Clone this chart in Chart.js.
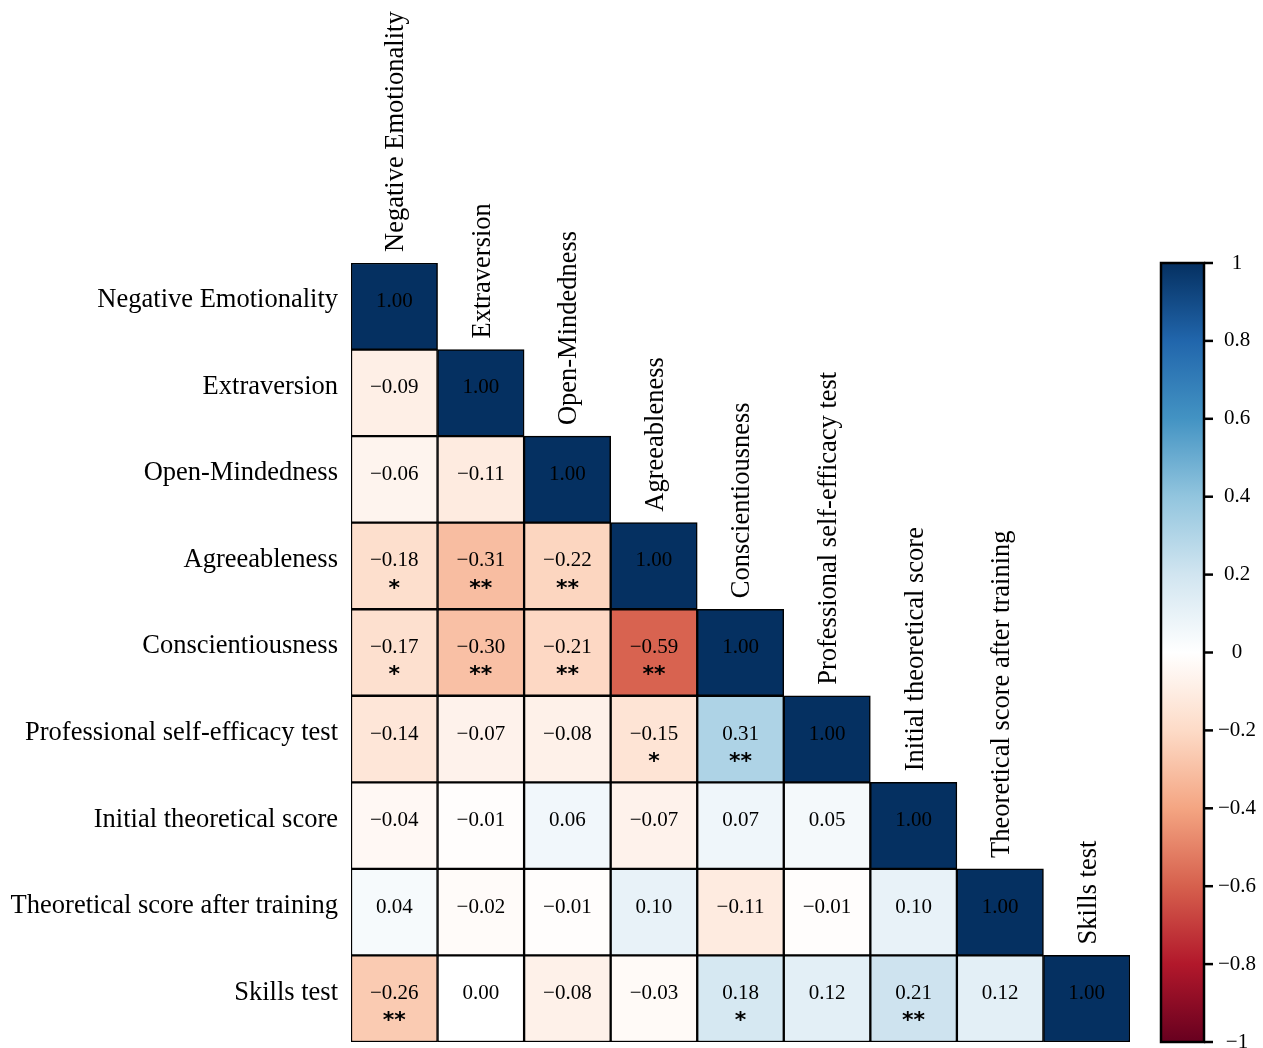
<!DOCTYPE html>
<html><head><meta charset="utf-8">
<script src="https://cdn.jsdelivr.net/npm/chart.js@4"></script>
<style>html,body{margin:0;padding:0;background:#fff;}#wrap{width:1263px;height:1048px;}</style>
</head><body><div id="wrap"><canvas id="c" width="1263" height="1048"></canvas></div>
<script>
const variables = ["Negative Emotionality","Extraversion","Open-Mindedness","Agreeableness","Conscientiousness","Professional self-efficacy test","Initial theoretical score","Theoretical score after training","Skills test"];
const corrRows = [
  [1.00],
  [-0.09, 1.00],
  [-0.06, -0.11, 1.00],
  [-0.18, -0.31, -0.22, 1.00],
  [-0.17, -0.30, -0.21, -0.59, 1.00],
  [-0.14, -0.07, -0.08, -0.15, 0.31, 1.00],
  [-0.04, -0.01, 0.06, -0.07, 0.07, 0.05, 1.00],
  [0.04, -0.02, -0.01, 0.10, -0.11, -0.01, 0.10, 1.00],
  [-0.26, 0.00, -0.08, -0.03, 0.18, 0.12, 0.21, 0.12, 1.00]
];
const sigRows = [
  [""],
  ["", ""],
  ["", "", ""],
  ["*", "**", "**", ""],
  ["*", "**", "**", "**", ""],
  ["", "", "", "*", "**", ""],
  ["", "", "", "", "", "", ""],
  ["", "", "", "", "", "", "", ""],
  ["**", "", "", "", "*", "", "**", "", ""]
];
const colorbarTicks = [1, 0.8, 0.6, 0.4, 0.2, 0, -0.2, -0.4, -0.6, -0.8, -1];
const rdbuStops = ["#67001F","#B2182B","#D6604D","#F4A582","#FDDBC7","#FFFFFF","#D1E5F0","#92C5DE","#4393C3","#2166AC","#053061"];

function hex2rgb(h){return [parseInt(h.slice(1,3),16),parseInt(h.slice(3,5),16),parseInt(h.slice(5,7),16)];}
function corrColor(v){
  let t=(v+1)/2*(rdbuStops.length-1);
  let i=Math.min(Math.floor(t),rdbuStops.length-2);
  let f=t-i;
  const a=hex2rgb(rdbuStops[i]), b=hex2rgb(rdbuStops[i+1]);
  const c=a.map((x,k)=>Math.round(x+(b[k]-x)*f));
  return `rgb(${c[0]},${c[1]},${c[2]})`;
}
function fmt(v){return (v<0?"\u2212":"")+Math.abs(v).toFixed(2);}
function fmtTick(v){ if(v===0) return "0"; return (v<0?"\u2212":"")+String(Math.abs(v)); }

const datasets = corrRows.map((row,i)=>({
  label: variables[i],
  data: variables.map((_,j)=> j<row.length ? [i, i+1] : null),
  backgroundColor: variables.map((_,j)=> j<row.length ? corrColor(row[j]) : 'rgba(0,0,0,0)'),
  borderColor: '#000',
  borderWidth: 1.5,
  borderSkipped: false,
  grouped: false,
  barPercentage: 1,
  categoryPercentage: 1
}));

const SERIF = '"Liberation Serif", "Times New Roman", serif';

const overlay = {
  id: 'overlay',
  afterDatasetsDraw(chart){
    const ctx = chart.ctx, xs = chart.scales.x, ys = chart.scales.y, cb = chart.scales.cb;
    const area = chart.chartArea;
    ctx.save();
    // cell values
    corrRows.forEach((row,i)=>{
      const yc = ys.getPixelForValue(i+0.5);
      row.forEach((v,j)=>{
        const xc = xs.getPixelForValue(j);
        ctx.fillStyle = '#000';
        ctx.textAlign = 'center';
        ctx.textBaseline = 'middle';
        ctx.font = '21px ' + SERIF;
        ctx.fillText(fmt(v), xc, yc - 5);
        const s = sigRows[i][j];
        if (s) {
          ctx.font = 'bold 22px "DejaVu Sans", sans-serif';
          ctx.fillText(s, xc, yc + 23);
        }
      });
    });
    // row labels
    ctx.font = '26.5px ' + SERIF;
    ctx.textAlign = 'right';
    ctx.textBaseline = 'middle';
    ctx.fillStyle = '#000';
    variables.forEach((name,i)=>{
      ctx.fillText(name, area.left - 13, ys.getPixelForValue(i+0.5) - 6);
    });
    // column labels
    variables.forEach((name,j)=>{
      const xc = xs.getPixelForValue(j);
      const yt = ys.getPixelForValue(j) - 11;
      ctx.save();
      ctx.translate(xc + 2, yt);
      ctx.rotate(-Math.PI/2);
      ctx.textAlign = 'left';
      ctx.textBaseline = 'middle';
      ctx.fillText(name, 0, 0);
      ctx.restore();
    });
    // colorbar
    const cbL = area.right + 31, cbW = 43;
    const yTop = cb.getPixelForValue(1), yBot = cb.getPixelForValue(-1);
    const grad = ctx.createLinearGradient(0, yBot, 0, yTop);
    rdbuStops.forEach((c,k)=>grad.addColorStop(k/(rdbuStops.length-1), c));
    ctx.fillStyle = grad;
    ctx.fillRect(cbL, yTop, cbW, yBot - yTop);
    ctx.strokeStyle = '#000';
    ctx.lineWidth = 2.5;
    ctx.strokeRect(cbL, yTop, cbW, yBot - yTop);
    ctx.font = '21px ' + SERIF;
    ctx.textAlign = 'center';
    ctx.textBaseline = 'middle';
    ctx.fillStyle = '#000';
    colorbarTicks.forEach(t=>{
      const y = cb.getPixelForValue(t);
      ctx.beginPath();
      ctx.moveTo(cbL + cbW, y);
      ctx.lineTo(cbL + cbW + 9, y);
      ctx.stroke();
      ctx.fillText(fmtTick(t), cbL + cbW + 33, y);
    });
    ctx.restore();
  }
};

new Chart(document.getElementById('c'), {
  type: 'bar',
  data: { labels: variables, datasets },
  options: {
    responsive: false,
    animation: false,
    layout: { padding: { left: 351, top: 263, right: 133, bottom: 6 } },
    scales: {
      x: { display: false },
      y: { display: false, min: 0, max: 9, reverse: true },
      cb: { display: false, type: 'linear', min: -1, max: 1, position: 'right' }
    },
    plugins: { legend: { display: false }, tooltip: { enabled: false } }
  },
  plugins: [overlay]
});
</script></body></html>
